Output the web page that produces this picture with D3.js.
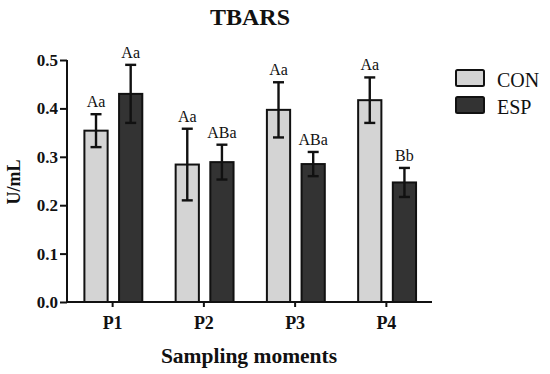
<!DOCTYPE html>
<html>
<head>
<meta charset="utf-8">
<script src="https://cdn.jsdelivr.net/npm/d3@7"></script>
<style>
  body { margin: 0; background: #fff; }
  svg { display: block; }
  text { font-family: "Liberation Serif", "Times New Roman", serif; fill: #111; }
</style>
</head>
<body>
<svg id="chart" width="550" height="374"></svg>
<script>
const categories = ["P1", "P2", "P3", "P4"];
const series = ["CON", "ESP"];
const conValues = [0.354, 0.284, 0.397, 0.417];
const conErrors = [0.034, 0.074, 0.057, 0.047];
const espValues = [0.430, 0.289, 0.285, 0.247];
const espErrors = [0.060, 0.036, 0.025, 0.030];
const conLetters = ["Aa", "Aa", "Aa", "Aa"];
const espLetters = ["Aa", "ABa", "ABa", "Bb"];
const yTicks = [0.0, 0.1, 0.2, 0.3, 0.4, 0.5];
const colors = { CON: "#d4d4d4", ESP: "#333333" };

const data = [];
categories.forEach((c, i) => {
  data.push({ cat: c, s: "CON", v: conValues[i], e: conErrors[i], l: conLetters[i] });
  data.push({ cat: c, s: "ESP", v: espValues[i], e: espErrors[i], l: espLetters[i] });
});

const svg = d3.select("#chart");
const mLeft = 67, mRight = 432, mTop = 60, mBottom = 302;

const x = d3.scaleBand().domain(categories).range([mLeft, mRight]).paddingInner(0).paddingOuter(0);
const xs = d3.scaleBand().domain(series).range([17.4, 75.3]).paddingInner(0.33).paddingOuter(0);
const y = d3.scaleLinear().domain([0, 0.5]).range([mBottom, mTop]);

// bars
svg.append("g").selectAll("rect").data(data).join("rect")
  .attr("x", d => x(d.cat) + xs(d.s))
  .attr("y", d => y(d.v))
  .attr("width", xs.bandwidth())
  .attr("height", d => y(0) - y(d.v))
  .attr("fill", d => colors[d.s])
  .attr("stroke", "#111")
  .attr("stroke-width", 2);

// error bars
const eb = svg.append("g").attr("stroke", "#111").attr("stroke-width", 2.4);
data.forEach(d => {
  const cx = x(d.cat) + xs(d.s) + xs.bandwidth() / 2;
  const hw = 5.5;
  eb.append("line").attr("x1", cx).attr("x2", cx).attr("y1", y(d.v + d.e)).attr("y2", y(d.v - d.e));
  eb.append("line").attr("x1", cx - hw).attr("x2", cx + hw).attr("y1", y(d.v + d.e)).attr("y2", y(d.v + d.e));
  eb.append("line").attr("x1", cx - hw).attr("x2", cx + hw).attr("y1", y(d.v - d.e)).attr("y2", y(d.v - d.e));
});

// letters
svg.append("g").selectAll("text").data(data).join("text")
  .attr("x", d => x(d.cat) + xs(d.s) + xs.bandwidth() / 2)
  .attr("y", d => y(d.v + d.e) - 7)
  .attr("text-anchor", "middle")
  .style("font-size", "16px")
  .text(d => d.l);

// y axis
const yAxis = svg.append("g").attr("transform", `translate(${mLeft},0)`)
  .call(d3.axisLeft(y).tickValues(yTicks).tickFormat(d3.format(".1f")).tickSize(7).tickPadding(2));
yAxis.select(".domain").attr("stroke", "#111").attr("stroke-width", 2).attr("d", `M0,${mTop}V${mBottom}`);
yAxis.selectAll(".tick line").attr("stroke", "#111").attr("stroke-width", 2);
yAxis.selectAll(".tick text").style("font-size", "17px").style("font-weight", "bold")
  .style("font-family", "'Liberation Serif', serif").attr("fill", "#111");

// x axis
const xAxis = svg.append("g").attr("transform", `translate(0,${mBottom})`)
  .call(d3.axisBottom(x).tickSize(5).tickPadding(9));
xAxis.select(".domain").attr("stroke", "#111").attr("stroke-width", 2).attr("d", `M${mLeft - 1},0H${mRight}`);
xAxis.selectAll(".tick line").attr("stroke", "#111").attr("stroke-width", 2);
xAxis.selectAll(".tick text").style("font-size", "18px").style("font-weight", "bold")
  .style("font-family", "'Liberation Serif', serif").attr("fill", "#111");

// title
svg.append("text").attr("x", 250).attr("y", 25).attr("text-anchor", "middle")
  .style("font-size", "24px").style("font-weight", "bold").text("TBARS");

// axis titles
svg.append("text").attr("x", 249).attr("y", 363).attr("text-anchor", "middle")
  .style("font-size", "21.5px").style("font-weight", "bold").text("Sampling moments");
svg.append("text").attr("transform", "translate(19.5,182) rotate(-90)").attr("text-anchor", "middle")
  .style("font-size", "18px").style("font-weight", "bold").text("U/mL");

// legend
const lg = svg.append("g");
series.forEach((s, i) => {
  const yy = 70 + i * 27;
  lg.append("rect").attr("x", 456).attr("y", yy).attr("width", 28).attr("height", 16)
    .attr("rx", 1.5).attr("fill", colors[s]).attr("stroke", "#111").attr("stroke-width", 2);
  lg.append("text").attr("x", 497).attr("y", yy + 16.5).style("font-size", "20px").text(s);
});
</script>
</body>
</html>
